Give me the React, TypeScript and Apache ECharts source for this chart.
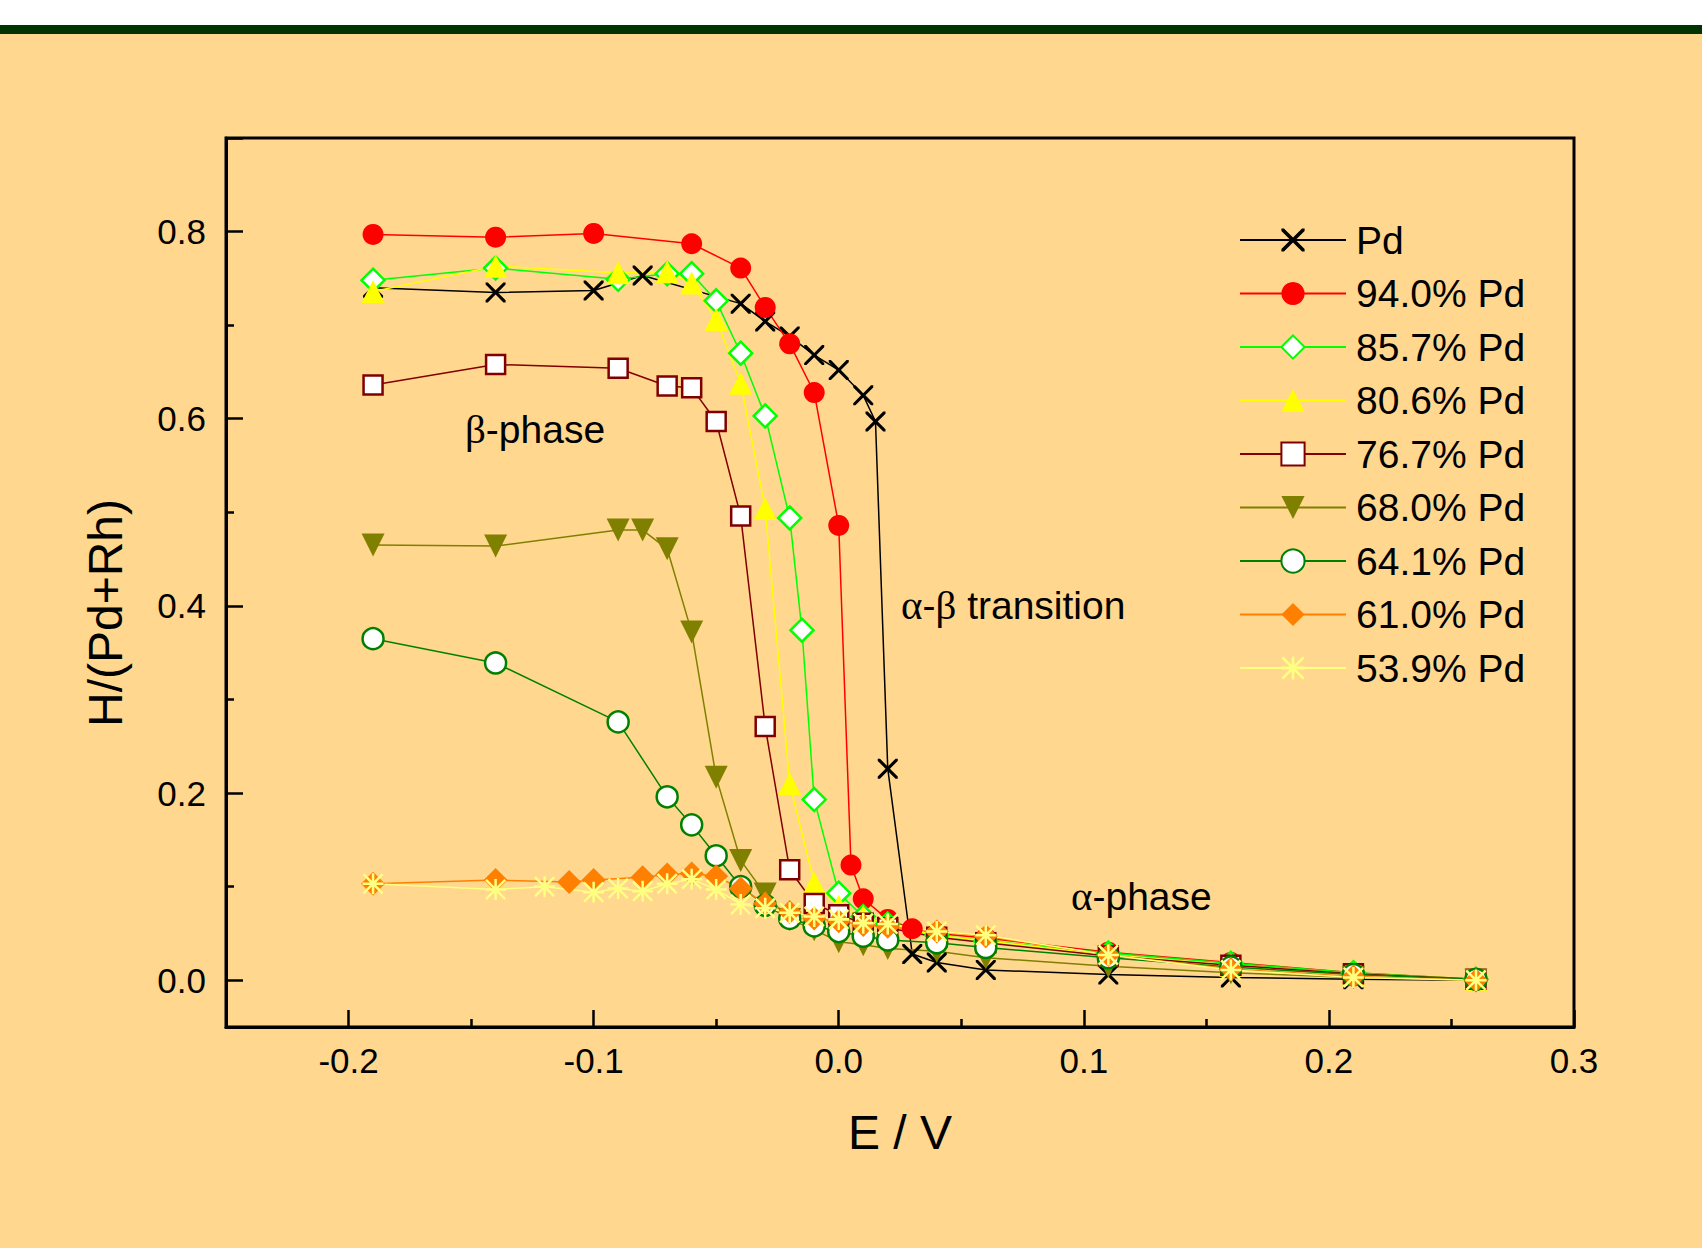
import React, { useEffect, useRef } from 'react';
import * as echarts from 'echarts';

// ---------- data ----------
const seriesNames = ['Pd', '94.0% Pd', '85.7% Pd', '80.6% Pd', '76.7% Pd', '68.0% Pd', '64.1% Pd', '61.0% Pd', '53.9% Pd'];

const xPd = [-0.19, -0.14, -0.10, -0.08, -0.04, -0.03, -0.02, -0.01, 0.00, 0.01, 0.015, 0.02, 0.03, 0.04, 0.06, 0.11, 0.16, 0.21, 0.26];
const yPd = [0.740, 0.735, 0.737, 0.753, 0.723, 0.704, 0.688, 0.668, 0.652, 0.625, 0.597, 0.226, 0.028, 0.019, 0.011, 0.006, 0.003, 0.001, 0.000];

const x940 = [-0.19, -0.14, -0.10, -0.06, -0.04, -0.03, -0.02, -0.01, 0.00, 0.005, 0.01, 0.02, 0.03, 0.04, 0.06, 0.11, 0.16, 0.21, 0.26];
const y940 = [0.797, 0.794, 0.798, 0.787, 0.761, 0.719, 0.680, 0.628, 0.486, 0.123, 0.087, 0.065, 0.055, 0.050, 0.045, 0.030, 0.019, 0.008, 0.001];

const x857 = [-0.19, -0.14, -0.09, -0.07, -0.06, -0.05, -0.04, -0.03, -0.02, -0.015, -0.01, 0.00, 0.01, 0.02, 0.04, 0.06, 0.11, 0.16, 0.21, 0.26];
const y857 = [0.748, 0.761, 0.749, 0.755, 0.755, 0.726, 0.670, 0.603, 0.494, 0.374, 0.193, 0.093, 0.068, 0.060, 0.048, 0.042, 0.029, 0.018, 0.008, 0.001];

const x806 = [-0.19, -0.14, -0.09, -0.07, -0.06, -0.05, -0.04, -0.03, -0.02, -0.01, 0.00, 0.01, 0.02, 0.04, 0.06, 0.11, 0.16, 0.21, 0.26];
const y806 = [0.736, 0.763, 0.756, 0.757, 0.745, 0.706, 0.638, 0.504, 0.210, 0.104, 0.079, 0.068, 0.060, 0.048, 0.042, 0.027, 0.016, 0.007, 0.001];

const x767 = [-0.19, -0.14, -0.09, -0.07, -0.06, -0.05, -0.04, -0.03, -0.02, -0.01, 0.00, 0.01, 0.02, 0.04, 0.06, 0.11, 0.16, 0.21, 0.26];
const y767 = [0.636, 0.658, 0.654, 0.635, 0.633, 0.597, 0.496, 0.271, 0.118, 0.082, 0.070, 0.061, 0.056, 0.046, 0.040, 0.026, 0.016, 0.007, 0.001];

const x680 = [-0.19, -0.14, -0.09, -0.08, -0.07, -0.06, -0.05, -0.04, -0.03, -0.02, -0.01, 0.00, 0.01, 0.02, 0.04, 0.06, 0.11, 0.16, 0.21, 0.26];
const y680 = [0.465, 0.464, 0.481, 0.481, 0.461, 0.372, 0.217, 0.128, 0.092, 0.065, 0.054, 0.041, 0.038, 0.034, 0.031, 0.024, 0.015, 0.008, 0.003, 0.000];

const x641 = [-0.19, -0.14, -0.09, -0.07, -0.06, -0.05, -0.04, -0.03, -0.02, -0.01, 0.00, 0.01, 0.02, 0.04, 0.06, 0.11, 0.16, 0.21, 0.26];
const y641 = [0.365, 0.339, 0.276, 0.196, 0.166, 0.133, 0.100, 0.080, 0.066, 0.058, 0.052, 0.047, 0.043, 0.040, 0.035, 0.024, 0.014, 0.006, 0.001];

const x610 = [-0.19, -0.14, -0.11, -0.10, -0.08, -0.07, -0.06, -0.05, -0.04, -0.03, -0.02, -0.01, 0.00, 0.01, 0.02, 0.04, 0.06, 0.11, 0.16, 0.21, 0.26];
const y610 = [0.103, 0.107, 0.105, 0.107, 0.110, 0.113, 0.114, 0.111, 0.098, 0.082, 0.073, 0.066, 0.063, 0.059, 0.057, 0.052, 0.047, 0.027, 0.012, 0.004, 0.000];

const x539 = [-0.19, -0.14, -0.12, -0.10, -0.09, -0.08, -0.07, -0.06, -0.05, -0.04, -0.03, -0.02, -0.01, 0.00, 0.01, 0.02, 0.04, 0.06, 0.11, 0.16, 0.21, 0.26];
const y539 = [0.103, 0.097, 0.100, 0.094, 0.098, 0.095, 0.103, 0.108, 0.097, 0.081, 0.077, 0.072, 0.068, 0.065, 0.061, 0.060, 0.052, 0.048, 0.027, 0.011, 0.003, 0.000];

// ---------- styles ----------
const FONT = '"Liberation Sans", Arial, Helvetica, sans-serif';
const SERIF = '"Liberation Serif", "DejaVu Serif", serif';
const X_SYMBOL = 'path://M0,0 L2.2,0 L10,7.8 L17.8,0 L20,0 L20,2.2 L12.2,10 L20,17.8 L20,20 L17.8,20 L10,12.2 L2.2,20 L0,20 L0,17.8 L7.8,10 L0,2.2 Z';
const STAR_SYMBOL = 'path://M8.8,0 L11.2,0 L11.2,20 L8.8,20 Z M0,8.8 L20,8.8 L20,11.2 L0,11.2 Z M1.7,0 L20,18.3 L18.3,20 L0,1.7 Z M18.3,0 L20,1.7 L1.7,20 L0,18.3 Z';
const DOWN_TRI = 'path://M0,0 L20,0 L10,18 Z';

function pairs(xs: number[], ys: number[]) {
  return xs.map((x, i) => [x, ys[i]]);
}

function mk(name: string, xs: number[], ys: number[], symbol: string, size: number, color: string, open: boolean) {
  return {
    type: 'line',
    name,
    data: pairs(xs, ys),
    symbol,
    symbolSize: size,
    showSymbol: true,
    showAllSymbol: true,
    clip: false,
    lineStyle: { color, width: 1.5 },
    itemStyle: open
      ? { color: '#ffffff', borderColor: color, borderWidth: 2.5 }
      : { color, borderWidth: 0 },
    emphasis: { disabled: true },
  };
}

export default function App() {
  const ref = useRef<HTMLDivElement>(null);

  useEffect(() => {
    if (!ref.current) return;
    const chart = echarts.init(ref.current, undefined, { renderer: 'svg' });

    const series = [
      mk(seriesNames[0], xPd, yPd, X_SYMBOL, 20, '#000000', false),
      mk(seriesNames[1], x940, y940, 'circle', 21, '#FF0000', false),
      mk(seriesNames[2], x857, y857, 'diamond', 23, '#00FF00', true),
      mk(seriesNames[3], x806, y806, 'triangle', 23, '#FFFF00', false),
      mk(seriesNames[4], x767, y767, 'rect', 19, '#800000', true),
      mk(seriesNames[5], x680, y680, DOWN_TRI, 23, '#808000', false),
      mk(seriesNames[6], x641, y641, 'circle', 21, '#008000', true),
      mk(seriesNames[7], x610, y610, 'diamond', 24, '#FF8000', false),
      mk(seriesNames[8], x539, y539, STAR_SYMBOL, 21, '#FFFF80', false),
    ];

    const tickLabelFmt = (step: number) => (v: number) => {
      const k = v / step;
      if (Math.abs(k - Math.round(k)) > 1e-6) return '';
      return v.toFixed(1);
    };

    chart.setOption({
      animation: false,
      backgroundColor: '#FFD78F',
      grid: {
        left: 226,
        right: 128,
        top: 138,
        bottom: 221,
        show: true,
        borderColor: '#000000',
        borderWidth: 3,
        backgroundColor: 'transparent',
        containLabel: false,
      },
      xAxis: {
        type: 'value',
        min: -0.25,
        max: 0.3,
        splitNumber: 5,
        axisLine: { show: true, onZero: false, lineStyle: { color: '#000', width: 3 } },
        axisTick: { show: true, inside: true, length: 17, lineStyle: { color: '#000', width: 2.5 } },
        minorTick: { show: true, splitNumber: 2, length: 8, lineStyle: { color: '#000', width: 2.5 } },
        splitLine: { show: false },
        axisLabel: {
          color: '#000',
          fontFamily: FONT,
          fontSize: 35,
          margin: 16,
          formatter: tickLabelFmt(0.1),
        },
      },
      yAxis: {
        type: 'value',
        min: -0.05,
        max: 0.9,
        splitNumber: 5,
        axisLine: { show: true, onZero: false, lineStyle: { color: '#000', width: 3 } },
        axisTick: { show: true, inside: true, length: 17, lineStyle: { color: '#000', width: 2.5 } },
        minorTick: { show: true, splitNumber: 2, length: 8, lineStyle: { color: '#000', width: 2.5 } },
        splitLine: { show: false },
        axisLabel: {
          color: '#000',
          fontFamily: FONT,
          fontSize: 35,
          margin: 20,
          formatter: tickLabelFmt(0.2),
        },
      },
      legend: {
        data: seriesNames,
        orient: 'vertical',
        left: 1239,
        top: 220,
        padding: 0,
        itemWidth: 106,
        itemHeight: 29,
        itemGap: 13.5,
        selectedMode: false,
        textStyle: { color: '#000', fontFamily: FONT, fontSize: 39, lineHeight: 40, padding: [0, 0, 0, 5] },
      },
      graphic: [
        { type: 'rect', left: 0, top: 0, shape: { x: 0, y: 0, width: 1702, height: 25 }, style: { fill: '#ffffff' }, silent: true },
        { type: 'rect', left: 0, top: 25, shape: { x: 0, y: 0, width: 1702, height: 9 }, style: { fill: '#023302' }, silent: true },
        {
          type: 'text', x: 105, y: 613, rotation: Math.PI / 2,
          style: { text: 'H/(Pd+Rh)', fill: '#000', font: `48px ${FONT}`, align: 'center', verticalAlign: 'middle' },
        },
        {
          type: 'text', x: 900, y: 1132,
          style: { text: 'E / V', fill: '#000', font: `48px ${FONT}`, align: 'center', verticalAlign: 'middle' },
        },
        {
          type: 'text', x: 465, y: 429,
          style: {
            text: '{g|β}-phase', fill: '#000', fontFamily: FONT, fontSize: 39, align: 'left', verticalAlign: 'middle',
            rich: { g: { fontFamily: SERIF, fontSize: 41, fill: '#000' } },
          },
        },
        {
          type: 'text', x: 901, y: 605,
          style: {
            text: '{g|α}-{g|β} transition', fill: '#000', fontFamily: FONT, fontSize: 39, align: 'left', verticalAlign: 'middle',
            rich: { g: { fontFamily: SERIF, fontSize: 41, fill: '#000' } },
          },
        },
        {
          type: 'text', x: 1071, y: 896,
          style: {
            text: '{g|α}-phase', fill: '#000', fontFamily: FONT, fontSize: 39, align: 'left', verticalAlign: 'middle',
            rich: { g: { fontFamily: SERIF, fontSize: 41, fill: '#000' } },
          },
        },
      ],
      series,
    });

    return () => {
      chart.dispose();
    };
  }, []);

  return (
    <div
      ref={ref}
      style={{ position: 'absolute', left: 0, top: 0, width: 1702, height: 1248 }}
    />
  );
}
